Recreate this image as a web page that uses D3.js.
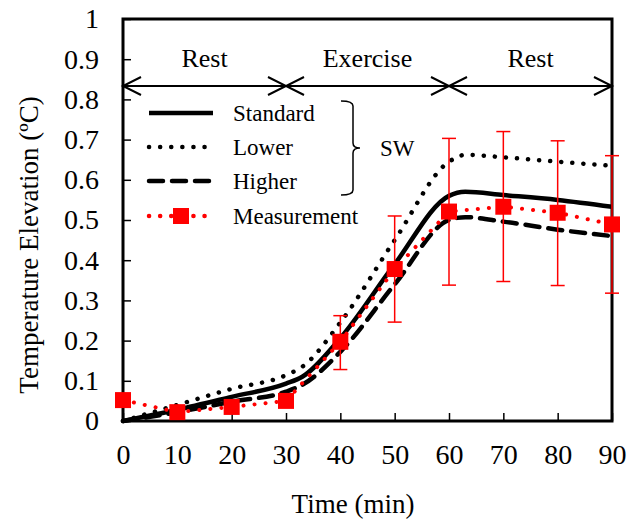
<!DOCTYPE html>
<html>
<head>
<meta charset="utf-8">
<script src="https://cdn.jsdelivr.net/npm/d3@7"></script>
<style>
  body { margin: 0; background: #fff; }
  text { font-family: "Liberation Serif", "Times New Roman", serif; fill: #000; }
</style>
</head>
<body>
<div id="chart"></div>
<script>
// model curves
var modelTimes = [0, 10, 20, 30, 33, 40, 50, 60, 63, 70, 80, 90];
var standardVals = [0, 0.028, 0.06, 0.093, 0.11, 0.206, 0.39, 0.56, 0.57, 0.562, 0.55, 0.533];
var lowerVals = [0, 0.04, 0.08, 0.114, 0.135, 0.245, 0.45, 0.645, 0.662, 0.656, 0.645, 0.635];
var higherVals = [0, 0.022, 0.048, 0.073, 0.09, 0.172, 0.34, 0.5, 0.507, 0.496, 0.476, 0.46];

// measurement with error bars
var measTimes = [0, 10, 20, 30, 40, 50, 60, 70, 80, 90];
var measVals = [0.052, 0.022, 0.035, 0.05, 0.197, 0.378, 0.521, 0.533, 0.518, 0.489];
var errLow = [null, null, null, null, 0.128, 0.246, 0.338, 0.347, 0.337, 0.318];
var errHigh = [null, null, null, null, 0.262, 0.51, 0.703, 0.72, 0.697, 0.66];

var xTicks = [0, 10, 20, 30, 40, 50, 60, 70, 80, 90];
var yTicks = [0, 0.1, 0.2, 0.3, 0.4, 0.5, 0.6, 0.7, 0.8, 0.9, 1];
var phases = [{ from: 0, to: 30, label: "Rest" }, { from: 30, to: 60, label: "Exercise" }, { from: 60, to: 90, label: "Rest" }];

var width = 638, height = 525;
var margin = { top: 19, right: 26, bottom: 104, left: 123 };
var w = width - margin.left - margin.right;
var h = height - margin.top - margin.bottom;

var svg = d3.select("#chart").append("svg").attr("width", width).attr("height", height);
var g = svg.append("g").attr("transform", "translate(" + margin.left + "," + margin.top + ")");

var x = d3.scaleLinear().domain([0, 90]).range([0, w]);
var y = d3.scaleLinear().domain([0, 1]).range([h, 0]);

// axes with inward ticks
var xAxis = d3.axisBottom(x).tickValues(xTicks).tickSize(-8).tickSizeOuter(0).tickPadding(23).tickFormat(d3.format("d"));
var yAxis = d3.axisLeft(y).tickValues(yTicks).tickSize(-8).tickSizeOuter(0).tickPadding(24).tickFormat(function (d) { return d === 0 || d === 1 ? d : d3.format(".1f")(d); });

var gx = g.append("g").attr("transform", "translate(0," + h + ")").call(xAxis);
var gy = g.append("g").call(yAxis);
[gx, gy].forEach(function (ax) {
    ax.select(".domain").remove();
    ax.selectAll(".tick line").attr("stroke", "#000").attr("stroke-width", 1.5);
    ax.selectAll(".tick text").style("font-family", "Liberation Serif").style("font-size", "28px");
});

// frame
g.append("rect").attr("x", 0).attr("y", 0).attr("width", w).attr("height", h)
    .attr("fill", "none").attr("stroke", "#000").attr("stroke-width", 3);

var line = d3.line().x(function (d) { return x(d[0]); }).y(function (d) { return y(d[1]); }).curve(d3.curveMonotoneX);

function series(vals) { return modelTimes.map(function (t, i) { return [t, vals[i]]; }); }

g.append("path").datum(series(lowerVals)).attr("d", line).attr("fill", "none")
    .attr("stroke", "#000").attr("stroke-width", 4.5).attr("stroke-dasharray", "0.1 11").attr("stroke-linecap", "round");
g.append("path").datum(series(higherVals)).attr("d", line).attr("fill", "none")
    .attr("stroke", "#000").attr("stroke-width", 4.5).attr("stroke-dasharray", "14 9").attr("stroke-linecap", "round");
g.append("path").datum(series(standardVals)).attr("d", line).attr("fill", "none")
    .attr("stroke", "#000").attr("stroke-width", 4.5);

// measurement
var meas = measTimes.map(function (t, i) { return { t: t, v: measVals[i], lo: errLow[i], hi: errHigh[i] }; });
var measLine = d3.line().x(function (d) { return x(d.t); }).y(function (d) { return y(d.v); });
g.append("path").datum(meas).attr("d", measLine).attr("fill", "none")
    .attr("stroke", "#ff0000").attr("stroke-width", 4).attr("stroke-dasharray", "0.1 11").attr("stroke-linecap", "round");

var eb = g.selectAll(".err").data(meas.filter(function (d) { return d.lo !== null; })).enter().append("g").attr("class", "err");
eb.append("line").attr("x1", function (d) { return x(d.t); }).attr("x2", function (d) { return x(d.t); })
    .attr("y1", function (d) { return y(d.lo); }).attr("y2", function (d) { return y(d.hi); })
    .attr("stroke", "#ff0000").attr("stroke-width", 1.5);
["lo", "hi"].forEach(function (k) {
    eb.append("line").attr("x1", function (d) { return x(d.t) - 7; }).attr("x2", function (d) { return x(d.t) + 7; })
        .attr("y1", function (d) { return y(d[k]); }).attr("y2", function (d) { return y(d[k]); })
        .attr("stroke", "#ff0000").attr("stroke-width", 1.5);
});

g.selectAll(".mk").data(meas).enter().append("rect").attr("class", "mk")
    .attr("x", function (d) { return x(d.t) - 8; }).attr("y", function (d) { return y(d.v) - 8; })
    .attr("width", 16).attr("height", 16).attr("fill", "#ff0000");

// phase arrows
var arrowY = 67;
g.append("line").attr("x1", 0).attr("x2", w).attr("y1", arrowY).attr("y2", arrowY).attr("stroke", "#000").attr("stroke-width", 2);
phases.forEach(function (p) {
    var a = x(p.from), b = x(p.to);
    g.append("path").attr("d", "M" + (a + 18) + "," + (arrowY - 9) + "L" + a + "," + arrowY + "L" + (a + 18) + "," + (arrowY + 9))
        .attr("fill", "none").attr("stroke", "#000").attr("stroke-width", 2);
    g.append("path").attr("d", "M" + (b - 18) + "," + (arrowY - 9) + "L" + b + "," + arrowY + "L" + (b - 18) + "," + (arrowY + 9))
        .attr("fill", "none").attr("stroke", "#000").attr("stroke-width", 2);
    g.append("text").attr("x", (a + b) / 2).attr("y", arrowY - 19).attr("text-anchor", "middle")
        .style("font-size", "26px").text(p.label);
});

// legend
var legend = [
    { label: "Standard", dash: null, color: "#000" },
    { label: "Lower", dash: "0.1 11", color: "#000" },
    { label: "Higher", dash: "14 9", color: "#000" },
    { label: "Measurement", dash: "0.1 11", color: "#ff0000", marker: true }
];
var lg = svg.append("g");
legend.forEach(function (d, i) {
    var ly = 113 + i * 34 + (i === 3 ? 1 : 0);
    lg.append("line").attr("x1", 149).attr("x2", 213).attr("y1", ly).attr("y2", ly)
        .attr("stroke", d.color).attr("stroke-width", 4.5).attr("stroke-linecap", d.dash ? "round" : "butt")
        .attr("stroke-dasharray", d.dash);
    if (d.marker) lg.append("rect").attr("x", 173).attr("y", ly - 8).attr("width", 16).attr("height", 16).attr("fill", "#ff0000");
    lg.append("text").attr("x", 233).attr("y", ly + 8).style("font-size", "23px").text(d.label);
});
lg.append("path").attr("d", "M341,101 Q353,101 353,106 L353,143 Q353,148 360,148 Q353,148 353,153 L353,190 Q353,195 341,195")
    .attr("fill", "none").attr("stroke", "#000").attr("stroke-width", 1.5);
lg.append("text").attr("x", 380).attr("y", 156).style("font-size", "23px").text("SW");

// axis titles
svg.append("text").attr("x", 353).attr("y", 513).attr("text-anchor", "middle").style("font-size", "27px").text("Time (min)");
svg.append("text").attr("transform", "translate(38,245) rotate(-90)")
    .attr("text-anchor", "middle").style("font-size", "27px").text("Temperature Elevation (ºC)");
</script>
</body>
</html>
